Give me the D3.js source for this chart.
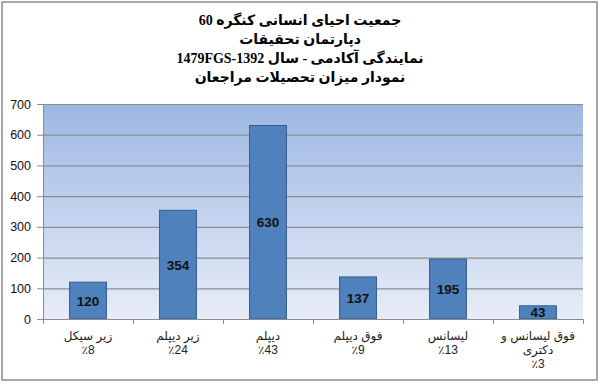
<!DOCTYPE html>
<html><head><meta charset="utf-8">
<script src="https://cdn.jsdelivr.net/npm/d3@7"></script>
<style>body{margin:0;background:#fff}</style>
</head><body>
<svg id="c" width="600" height="384"></svg>
<script>
const titleLines = ["جمعیت احیای انسانی کنگره 60", "دپارتمان تحقیقات", "نمایندگی آکادمی - سال 1479FGS-1392", "نمودار میزان تحصیلات مراجعان"];
const categories = [["زیر سیکل"], ["زیر دیپلم"], ["دیپلم"], ["فوق دیپلم"], ["لیسانس"], ["فوق لیسانس و", "دکتری"]];
const percents = ["٪8", "٪24", "٪43", "٪9", "٪13", "٪3"];
const values = [120, 354, 630, 137, 195, 43];
const yTicks = [0, 100, 200, 300, 400, 500, 600, 700];

const svg = d3.select("#c");
const M = {l: 43, r: 583, t: 104, b: 319};

svg.append("rect").attr("x", 2).attr("y", 2).attr("width", 595).attr("height", 378)
  .attr("fill", "#fff").attr("stroke", "#8a8a8a").attr("stroke-width", 1.5);

const defs = svg.append("defs");
const g = defs.append("linearGradient").attr("id", "bg").attr("x1", 0).attr("y1", 0).attr("x2", 0).attr("y2", 1);
g.append("stop").attr("offset", "0").attr("stop-color", "#9db7e3");
g.append("stop").attr("offset", "1").attr("stop-color", "#e7edf8");

const idx = d3.range(values.length);
const x = d3.scaleBand().domain(idx).range([M.l, M.r]).paddingInner(0.59).paddingOuter(0.295);
const xb = d3.scaleBand().domain(idx).range([M.l, M.r]);
const y = d3.scaleLinear().domain([0, 700]).range([M.b, M.t]);

svg.append("rect").attr("x", M.l).attr("y", M.t).attr("width", M.r - M.l).attr("height", M.b - M.t)
  .attr("fill", "url(#bg)");

// gridlines
svg.append("g").selectAll("line").data(yTicks.filter(d => d > 0)).join("line")
  .attr("x1", M.l).attr("x2", M.r).attr("y1", d => y(d) + 0.5).attr("y2", d => y(d) + 0.5)
  .attr("stroke", "#8c8c8c").attr("stroke-width", 1.2);

// y axis
const ya = svg.append("g").attr("transform", `translate(${M.l},0)`)
  .call(d3.axisLeft(y).tickValues(yTicks).tickSize(6).tickPadding(6));
ya.select(".domain").attr("stroke", "#8c8c8c");
ya.selectAll(".tick line").attr("stroke", "#8c8c8c");
ya.selectAll(".tick text").attr("font-family", "Liberation Sans, Arial, sans-serif").attr("font-size", 12.5).attr("fill", "#111");

// bars
svg.append("g").selectAll("rect").data(values).join("rect")
  .attr("x", (d, i) => x(i)).attr("width", x.bandwidth())
  .attr("y", d => y(d)).attr("height", d => y(0) - y(d))
  .attr("fill", "#4f81bd").attr("stroke", "#385d8a").attr("stroke-width", 1);

svg.append("g").selectAll("text").data(values).join("text")
  .attr("x", (d, i) => x(i) + x.bandwidth() / 2)
  .attr("y", d => (y(d) + y(0)) / 2 + 5)
  .attr("text-anchor", "middle")
  .attr("font-family", "Liberation Sans, Arial, sans-serif").attr("font-weight", "bold").attr("font-size", 13.5)
  .attr("fill", "#111").text(d => d);

// x axis
const xa = svg.append("g").attr("transform", `translate(0,${M.b})`)
  .call(d3.axisBottom(xb).tickValues([]).tickSizeOuter(0));
xa.select(".domain").attr("stroke", "#8c8c8c");
xa.selectAll("line.bt").data(d3.range(values.length + 1)).join("line").attr("class", "bt")
  .attr("x1", i => M.l + i * xb.step() + 0.5).attr("x2", i => M.l + i * xb.step() + 0.5)
  .attr("y1", 0).attr("y2", 5).attr("stroke", "#8c8c8c");

const lab = svg.append("g").selectAll("text").data(idx).join("text")
  .attr("x", i => xb(i) + xb.bandwidth() / 2)
  .attr("text-anchor", "middle")
  .attr("font-family", "Liberation Sans, Arial, DejaVu Sans, sans-serif").attr("font-size", 12)
  .attr("fill", "#222");
lab.each(function(i) {
  const t = d3.select(this);
  const lines = categories[i].concat([percents[i]]);
  lines.forEach((s, k) => {
    t.append("tspan").attr("x", xb(i) + xb.bandwidth() / 2).attr("y", 340 + k * 14)
      .attr("direction", "rtl").text(s);
  });
});

// title
svg.append("g").selectAll("text").data(titleLines).join("text")
  .attr("x", 300).attr("y", (d, i) => 25 + i * 19)
  .attr("text-anchor", "middle").attr("direction", "rtl")
  .attr("font-family", "Liberation Serif, Times New Roman, DejaVu Sans, serif").attr("font-weight", "bold").attr("font-size", 14)
  .attr("fill", "#000").text(d => d);
</script>
</body></html>
